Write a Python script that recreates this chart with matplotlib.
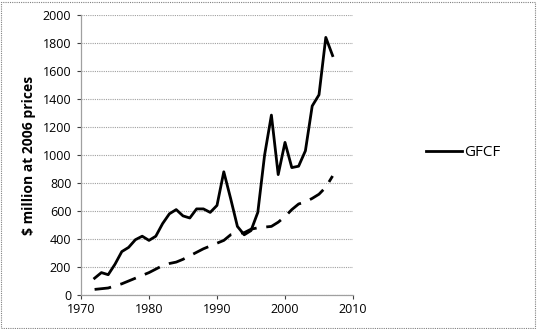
import matplotlib
matplotlib.use("Agg")
import matplotlib.pyplot as plt
from matplotlib.patches import Rectangle

years = list(range(1972, 2008))
gfcf = [120, 160, 145, 220, 310, 340, 395, 420, 390, 420, 510, 580, 610, 565, 550,
        615, 615, 590, 640, 880, 690, 490, 430, 460, 590, 1000, 1285, 860, 1090, 910,
        920, 1030, 1350, 1430, 1840, 1710]
trend = [40, 45, 50, 65, 80, 100, 120, 140, 160, 185, 210, 225, 235, 255, 280, 305,
         330, 350, 370, 390, 430, 440, 445, 470, 480, 485, 490, 520, 560, 610, 650,
         665, 690, 720, 770, 850]
xticks = [1970, 1980, 1990, 2000, 2010]
yticks = list(range(0, 2001, 200))

plt.rcParams['font.family'] = ['Open Sans', 'DejaVu Sans']

fig = plt.figure(figsize=(5.37, 3.29), dpi=100)
W, H = 537, 329
ax = fig.add_axes([81 / W, 1 - 295 / H, (353 - 81) / W, (295 - 15) / H])

ax.plot(years, gfcf, color='black', lw=2.0, label='GFCF', solid_joinstyle='round')
ax.plot(years, trend, color='black', lw=2.0, dashes=(6, 3.5))

ax.set_xlim(1970, 2010)
ax.set_ylim(0, 2000)
ax.set_xticks(xticks)
ax.set_yticks(yticks)
ax.tick_params(labelsize=9, colors='#404040', length=3, width=0.8)
ax.tick_params(axis='x', direction='out', pad=3)
ax.tick_params(axis='y', direction='out', pad=4)
for lbl in ax.get_xticklabels() + ax.get_yticklabels():
    lbl.set_color('black')
ax.grid(axis='y', color='#a0a0a0', linestyle=(0, (1, 1)), lw=0.8)
ax.set_axisbelow(True)
for s in ['top', 'right']:
    ax.spines[s].set_visible(False)
for s in ['left', 'bottom']:
    ax.spines[s].set_color('#a0a0a0')
    ax.spines[s].set_linewidth(0.9)

ax.set_ylabel('$ million at 2006 prices', fontsize=10, fontweight='bold', labelpad=5)

leg = fig.legend(loc='center left', bbox_to_anchor=(412 / W, 1 - 153 / H), frameon=False,
                 fontsize=11, handlelength=2.4, handletextpad=0.1)

fig.patches.append(Rectangle((0.002, 0.003), 0.994, 0.992, transform=fig.transFigure,
                             fill=False, edgecolor='#808080', lw=0.8, linestyle=(0, (1, 1))))

fig.savefig('out.png', dpi=100)
